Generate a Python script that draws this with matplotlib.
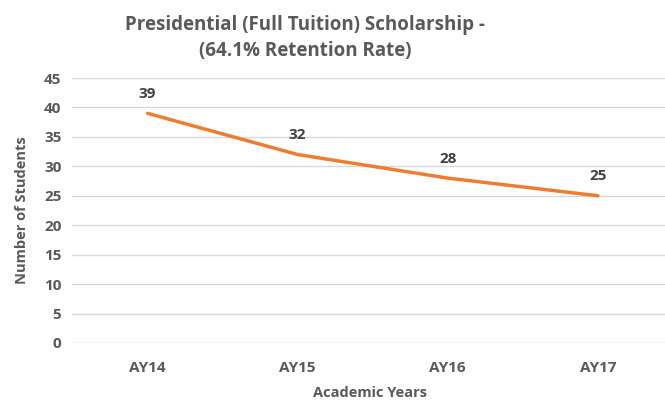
import matplotlib
matplotlib.use("Agg")
import matplotlib.pyplot as plt

categories = ["AY14", "AY15", "AY16", "AY17"]
students = [39, 32, 28, 25]
yticks = [0, 5, 10, 15, 20, 25, 30, 35, 40, 45]

plt.rcParams['font.family'] = ['Open Sans', 'DejaVu Sans']
gray = '#595959'

fig = plt.figure(figsize=(6.65, 4.0), dpi=100)
ax = fig.add_axes([0.109, 0.1425, 0.891, 0.6625])
x = list(range(len(categories)))
ax.plot(x, students, color='#ED7D31', linewidth=2.5, solid_capstyle='round')
for xi, v in zip(x, students):
    ax.annotate(str(v), (xi, v), xytext=(0, 9), textcoords='offset points',
                ha='center', va='bottom', fontsize=11, fontweight='bold', color='#404040')

ax.set_xlim(-0.5, 3.447)
ax.set_ylim(0, 45)
ax.set_yticks(yticks)
ax.set_xticks(x)
ax.set_xticklabels(categories)
ax.grid(axis='y', color='#D9D9D9', linewidth=1)
ax.set_axisbelow(True)
for s in ax.spines.values():
    s.set_visible(False)
ax.tick_params(length=0, labelsize=11, labelcolor=gray, pad=8)
for lbl in ax.get_xticklabels() + ax.get_yticklabels():
    lbl.set_fontweight('bold')
ax.tick_params(axis='x', pad=13)

fig.text(0.557, 0.018, "Academic Years", ha='center', va='center', fontsize=10.5,
         fontweight='bold', color=gray)
fig.text(0.033, 0.475, "Number of Students", ha='center', va='center', rotation=90,
         fontsize=10.5, fontweight='bold', color=gray)
fig.text(0.459, 0.905, "Presidential (Full Tuition) Scholarship -\n(64.1% Retention Rate)",
         ha='center', va='center', fontsize=13.5, fontweight='bold', color=gray,
         linespacing=1.45)

fig.savefig("out.png", dpi=100)
